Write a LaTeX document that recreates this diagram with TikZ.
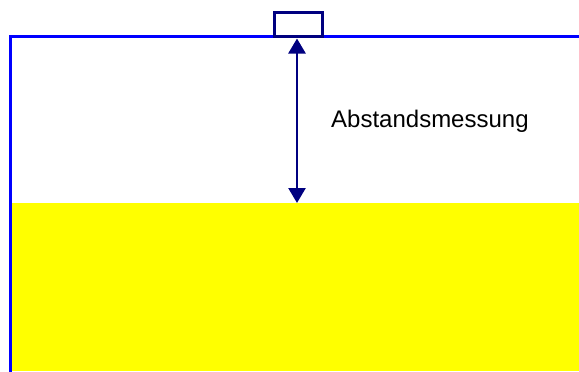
\documentclass[tikz,border=0pt]{standalone}
\usepackage{fontspec}
\setmainfont{Liberation Sans}
\usetikzlibrary{arrows.meta}
\definecolor{wallblue}{RGB}{0,0,255}
\definecolor{navy}{RGB}{0,0,128}
\definecolor{liquid}{RGB}{255,255,0}
\begin{document}
\begin{tikzpicture}[x=1pt,y=-1pt,
  wall/.style={draw=wallblue,line width=3pt},
  sensorbox/.style={draw=navy,fill=white,line width=2.5pt,minimum width=48pt,minimum height=24pt,inner sep=0pt,outer sep=0pt},
  measure/.style={draw=navy,line width=2.5pt,{Triangle[width=17pt,length=15pt]}-{Triangle[width=17pt,length=15pt]}},
  label/.style={font=\fontsize{24pt}{28pt}\selectfont,anchor=base west,inner sep=0pt}]
\useasboundingbox (0,0) rectangle (579,372);
\fill[liquid] (12,203) rectangle (579,371);
\draw[wall] (579,36.5) -- (10.5,36.5) -- (10.5,372);
\node[sensorbox] (sensor) at (298.5,24.5) {};
\coordinate (top) at (297,38.5);
\coordinate (surface) at (297,203);
\draw[measure] (top) -- (surface);
\node[label] (txt) at (331,127) {Abstandsmessung};
\end{tikzpicture}
\end{document}
